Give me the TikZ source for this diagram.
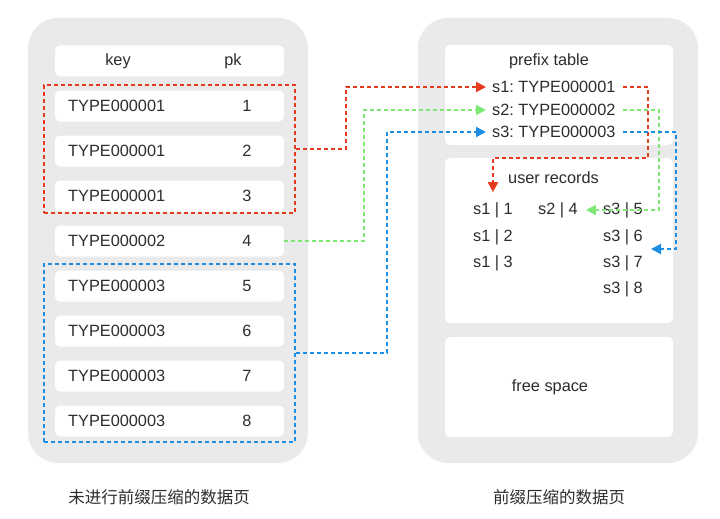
\documentclass[tikz,border=0pt]{standalone}
\usepackage{fontspec}
\setmainfont{Liberation Sans}
\newfontfamily\cjk{Noto Sans CJK SC}
\usetikzlibrary{positioning,arrows.meta,calc}
\definecolor{pagegray}{RGB}{234,234,234}
\definecolor{txt}{RGB}{45,45,45}
\definecolor{cred}{RGB}{232,58,30}
\definecolor{cgreen}{RGB}{125,232,115}
\definecolor{cblue}{RGB}{28,142,228}
\frenchspacing

\begin{document}
\begin{tikzpicture}[x=1pt,y=-1pt,
  page/.style={fill=pagegray,rounded corners=30pt},
  panel/.style={fill=white,rounded corners=5pt},
  cell/.style={fill=white,rounded corners=5pt,minimum width=229pt,minimum height=31pt,inner sep=0pt},
  lbl/.style={inner sep=0pt,text=txt,font=\fontsize{16.3}{19}\selectfont},
  grp/.style={draw,dash pattern=on 4pt off 3pt,line width=2pt,inner sep=0pt},
  link/.style={dash pattern=on 4pt off 3pt,line width=2pt,shorten >=6pt,-{Triangle[length=10pt,width=10pt]}},
  fromtxt/.style={shorten <=7pt}]
\useasboundingbox (0,0) rectangle (720,519);
% Pages
\fill[page] (28,18) rectangle (308,463);
\fill[page] (418,18) rectangle (698,463);
% Left page: header and rows
\node[cell] (head) at (169.5,61) {};
\node[lbl] (keyhd) at (118,61) {key};
\node[lbl] (pkhd) at (233,61) {pk};
\foreach \i/\k in {1/1,2/1,3/1,4/2,5/3,6/3,7/3,8/3} {
  \node[cell] (row\i) at (169.5,61+45*\i) {};
  \node[lbl,anchor=west] (key\i) at (68,61+45*\i) {TYPE00000\k};
  \node[lbl] (pk\i) at (247,61+45*\i) {\i};
}
\node[grp,draw=cred,minimum width=251pt,minimum height=128pt] (grpA) at (169.5,149) {};
\node[grp,draw=cblue,minimum width=251pt,minimum height=178pt] (grpC) at (169.5,353) {};
% Right page: prefix table, user records, free space
\fill[panel] (445,45) rectangle (673,145);
\fill[panel] (445,158) rectangle (673,323);
\fill[panel] (445,337) rectangle (673,437);
\node[lbl] (ptab) at (549,61) {prefix table};
\foreach \s/\y in {1/87,2/110,3/132}
  \node[lbl,anchor=west] (s\s) at (492,\y) {s\s: TYPE00000\s};
\node[lbl,anchor=west] (urec) at (508,178) {user records};
\foreach \s/\p/\x/\y in {1/1/473/210,1/2/473/237,1/3/473/263,2/4/538/210,3/5/603/210,3/6/603/237,3/7/603/263,3/8/603/289}
  \node[lbl,anchor=west] (r\s\p) at (\x,\y) {s\s{} | \p};
\node[lbl] (free) at (550,387) {free space};
% Captions
\node[lbl,font=\cjk\fontsize{16.5}{20}\selectfont] (capL) at (159,497) {未进行前缀压缩的数据页};
\node[lbl,font=\cjk\fontsize{16.5}{20}\selectfont] (capR) at (559,497) {前缀压缩的数据页};
% Links: rows -> prefix table
\draw[link,cred] (grpA.east) -- ++(50,0) |- (s1.west);
\draw[link,cgreen] (row4.east) -- ++(80,0) |- (s2.west);
\draw[link,cblue] (grpC.east) -- ++(91,0) |- (s3.west);
% Links: prefix table -> user records
\coordinate (rdrop) at (r11.north |- 0,158);
\coordinate (s3in) at (651,249);
\draw[link,cred,fromtxt,shorten >=10pt] (s1.east) -- ++(32,0) |- (rdrop) -- (r11.north);
\draw[link,cgreen,fromtxt,shorten >=8pt] (s2.east) -- ++(43,0) |- (r24.east);
\draw[link,cblue,fromtxt,shorten >=0pt] (s3.east) -- ++(60,0) |- (s3in);
\end{tikzpicture}
\end{document}
